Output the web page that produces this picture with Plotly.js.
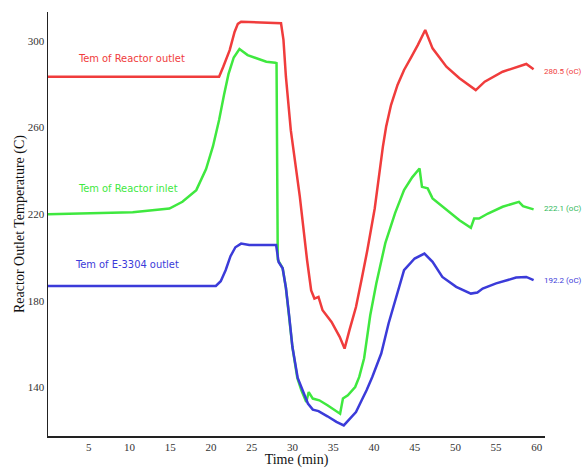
<!DOCTYPE html>
<html>
<head>
<meta charset="utf-8">
<script src="https://cdn.plot.ly/plotly-3.0.1.min.js"></script>
<style>html,body{margin:0;padding:0;background:#fff;}#chart{width:588px;height:468px;}</style>
</head>
<body>
<div id="chart"></div>
<script>
// Time (min) and temperature (C)
const redTime = [0, 21.0, 21.5, 22.3, 22.9, 23.3, 23.7, 26.0, 28.6, 28.9, 29.2, 29.8, 30.9, 31.8, 32.3, 32.7, 33.2, 33.7, 34.8, 35.8, 36.4, 37.0, 37.8, 38.5, 39.2, 40.1, 40.7, 41.1, 41.5, 42.1, 42.9, 43.7, 44.6, 45.4, 46.3, 47.2, 48.9, 50.5, 52.5, 53.6, 55.8, 58.7, 59.6];
const redTemp = [283.5, 283.5, 288.0, 295.8, 304.2, 307.9, 308.9, 308.6, 308.2, 300.5, 283.5, 258.8, 228.3, 198.7, 184.8, 181.0, 181.8, 175.6, 170.2, 163.3, 157.9, 166.4, 177.1, 190.0, 203.4, 222.6, 240.3, 251.1, 260.4, 270.4, 279.7, 286.6, 292.7, 298.2, 305.1, 296.6, 288.1, 282.8, 277.3, 281.2, 285.8, 289.4, 286.9];

const greenTime = [0, 10.4, 14.9, 16.5, 18.2, 19.4, 20.25, 21.0, 21.6, 22.15, 22.8, 23.5, 24.5, 25.5, 26.8, 27.9, 28.05, 28.2, 28.8, 29.2, 29.6, 30.0, 30.6, 31.1, 31.7, 32.0, 32.5, 33.3, 34.3, 35.85, 36.2, 36.8, 37.7, 38.2, 38.8, 39.55, 40.3, 41.4, 42.6, 43.7, 44.7, 45.6, 45.9, 46.6, 47.2, 48.9, 50.5, 51.9, 52.3, 52.9, 54.0, 55.8, 57.8, 58.3, 59.6];
const greenTemp = [219.9, 220.9, 222.6, 225.7, 231.1, 240.8, 251.4, 263.5, 275.0, 284.7, 292.4, 296.3, 293.5, 292.0, 290.4, 290.0, 289.8, 199.0, 195.0, 186.0, 173.0, 158.6, 144.3, 138.6, 133.2, 137.8, 134.8, 134.0, 131.7, 127.8, 134.8, 136.3, 140.1, 144.8, 153.4, 173.3, 188.1, 206.6, 220.5, 231.1, 237.0, 241.1, 232.6, 231.9, 227.3, 221.9, 217.2, 213.7, 218.0, 218.0, 220.3, 223.4, 225.7, 223.7, 222.2];

const blueTime = [0, 20.6, 21.2, 21.8, 22.4, 23.0, 23.7, 24.7, 28.0, 28.3, 28.8, 29.2, 29.6, 30.0, 30.65, 31.3, 31.9, 32.5, 33.2, 34.3, 35.4, 36.3, 36.9, 37.8, 38.5, 39.1, 39.8, 40.9, 41.8, 43.1, 43.7, 45.0, 46.2, 47.2, 48.4, 50.1, 51.9, 52.7, 53.35, 55.0, 57.45, 58.7, 59.6];
const blueTemp = [186.8, 186.8, 189.0, 194.1, 200.6, 204.7, 206.4, 205.7, 205.7, 197.9, 195.0, 186.0, 173.0, 158.6, 144.3, 138.6, 132.5, 129.7, 129.0, 126.6, 124.0, 122.4, 124.7, 128.6, 134.0, 138.6, 144.8, 155.6, 169.5, 185.8, 194.1, 199.5, 201.8, 198.0, 191.0, 186.4, 183.3, 183.8, 185.6, 188.0, 190.7, 191.0, 189.5];

const xTicks = [5, 10, 15, 20, 25, 30, 35, 40, 45, 50, 55, 60];
const yTicks = [140, 180, 220, 260, 300];

const seriesNames = ["Tem of Reactor outlet", "Tem of Reactor inlet", "Tem of E-3304 outlet"];
const endLabels = ["280.5 (oC)", "222.1 (oC)", "192.2 (oC)"];

const RED = "#f03c3c", GREEN = "#3fe83f", BLUE = "#3b3bd9";

const traces = [
  {x: redTime, y: redTemp, name: seriesNames[0], mode: "lines", line: {color: RED, width: 2.5}},
  {x: greenTime, y: greenTemp, name: seriesNames[1], mode: "lines", line: {color: GREEN, width: 2.5}},
  {x: blueTime, y: blueTemp, name: seriesNames[2], mode: "lines", line: {color: BLUE, width: 2.5}}
];

const labelFont = (c) => ({family: "Liberation Sans Narrow, DejaVu Sans Condensed, Roboto, sans-serif", size: 11, color: c});
const endFont = (c) => ({family: "Roboto, sans-serif", size: 8, color: c});

const layout = {
  width: 588, height: 468,
  margin: {l: 48, r: 43, t: 12, b: 32},
  paper_bgcolor: "#fff", plot_bgcolor: "#fff",
  showlegend: false,
  xaxis: {
    range: [0, 61], tickvals: xTicks, ticktext: xTicks.map(String),
    showgrid: false, zeroline: false, showline: true, linecolor: "#222", linewidth: 1.5,
    ticks: "", tickfont: {family: "Liberation Serif, serif", size: 11, color: "#333"},
    title: {text: "Time (min)", font: {family: "Liberation Serif, serif", size: 14, color: "#111"}, standoff: 4}
  },
  yaxis: {
    range: [117.5, 313.4], tickvals: yTicks, ticktext: yTicks.map(String),
    showgrid: false, zeroline: false, showline: true, linecolor: "#222", linewidth: 1.5,
    ticks: "", tickfont: {family: "Liberation Serif, serif", size: 11, color: "#333"},
    title: {text: "Reactor Outlet Temperature (C)", font: {family: "Liberation Serif, serif", size: 14, color: "#111"}, standoff: 0}
  },
  annotations: [
    {x: 10.3, y: 291.7, xref: "x", yref: "y", text: seriesNames[0], showarrow: false, font: labelFont(RED)},
    {x: 9.8, y: 231.7, xref: "x", yref: "y", text: seriesNames[1], showarrow: false, font: labelFont(GREEN)},
    {x: 9.75, y: 196.9, xref: "x", yref: "y", text: seriesNames[2], showarrow: false, font: labelFont(BLUE)},
    {x: 60.6, y: 285.8, xref: "x", yref: "y", xanchor: "left", text: endLabels[0], showarrow: false, font: endFont(RED)},
    {x: 60.6, y: 222.4, xref: "x", yref: "y", xanchor: "left", text: endLabels[1], showarrow: false, font: endFont("#2fb85a")},
    {x: 60.6, y: 189.5, xref: "x", yref: "y", xanchor: "left", text: endLabels[2], showarrow: false, font: endFont(BLUE)}
  ]
};

Plotly.newPlot("chart", traces, layout, {displayModeBar: false, staticPlot: true});
</script>
</body>
</html>
